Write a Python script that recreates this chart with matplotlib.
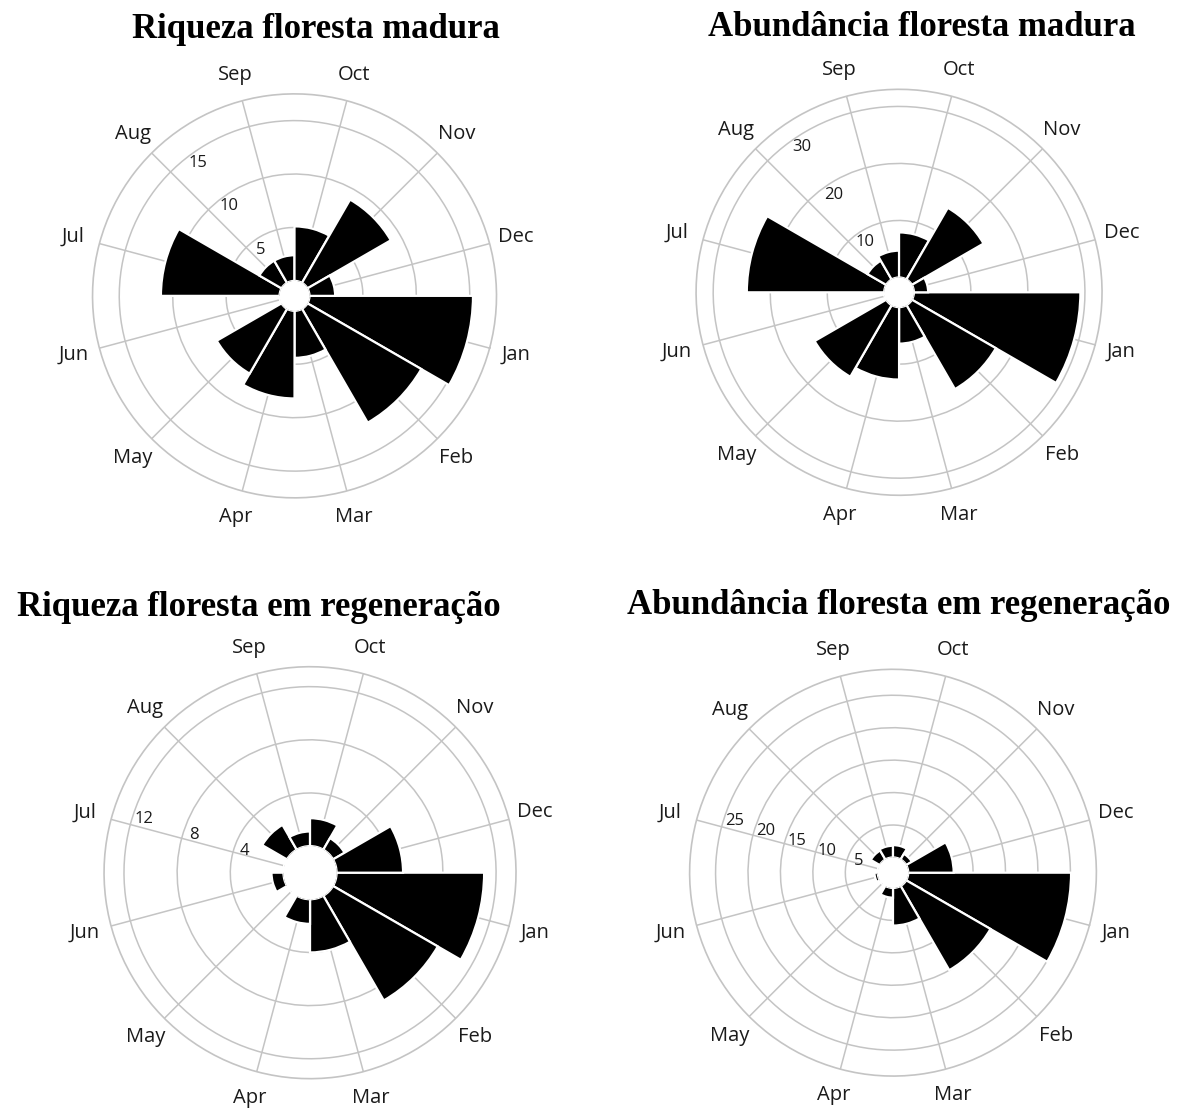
import numpy as np
import matplotlib.pyplot as plt

months = ['Jan', 'Feb', 'Mar', 'Apr', 'May', 'Jun',
          'Jul', 'Aug', 'Sep', 'Oct', 'Nov', 'Dec']

# valores (Jan..Dec)
riq_madura = [15.3, 12.3, 4.4, 8.2, 7.0, 0.0, 11.1, 2.4, 2.4, 5.1, 9.0, 2.4]
abu_madura = [29.2, 17.0, 6.4, 12.7, 14.5, 0.0, 24.1, 3.8, 4.7, 7.9, 14.5, 2.5]
riq_regen = [11.1, 9.1, 4.0, 1.85, 0.0, 0.9, 0.0, 2.15, 1.1, 2.1, 1.0, 5.0]
abu_regen = [25.1, 15.0, 5.8, 1.5, 0.0, 0.5, 0.0, 1.6, 1.8, 1.9, 1.0, 7.0]

titles = ['Riqueza floresta madura', 'Abundância floresta madura',
          'Riqueza floresta em regeneração', 'Abundância floresta em regeneração']

# aneis de cada grafico
rings_1 = [5, 10, 15]
rings_2 = [10, 20, 30]
rings_3 = [4, 8, 12]
rings_4 = [5, 10, 15, 20, 25]

rmax = [17.5, 33, 13.5, 29]
rorigin = [1.4, 2.6, 2.0, 2.35]
rlabel_angle = [126, 124, 162, 162]   # angulo (graus, matematico) dos rotulos radiais

# posicao dos eixos [left, bottom, width, height]
boxes = [[0.0778, 0.5519, 0.3398, 0.3636],
         [0.5854, 0.5542, 0.3415, 0.3654],
         [0.0875, 0.0291, 0.3465, 0.3708],
         [0.5800, 0.0314, 0.3421, 0.3662]]
title_xy = [(316, 30), (922, 28), (259, 607), (899, 606)]

grid_col = '#c4c4c4'
month_font = ['Open Sans', 'DejaVu Sans']

fig = plt.figure(figsize=(11.89, 11.11), dpi=100)

data = [riq_madura, abu_madura, riq_regen, abu_regen]
rings = [rings_1, rings_2, rings_3, rings_4]
theta = np.deg2rad(np.arange(12) * 30)

for k in range(4):
    ax = fig.add_axes(boxes[k], projection='polar')
    ax.set_theta_direction(-1)
    ax.set_theta_offset(np.deg2rad(-15))
    ax.set_axisbelow(True)

    ax.bar(theta, data[k], width=np.deg2rad(30), bottom=0, align='center',
           color='black', edgecolor='white', linewidth=1.6, zorder=3)

    ax.set_rorigin(-rorigin[k])
    ax.set_rlim(0, rmax[k])
    ax.set_yticks(rings[k])
    ax.set_yticklabels([])
    ax.set_xticks(theta)
    ax.set_xticklabels(months, fontfamily=month_font, fontsize=14.5, color='#1a1a1a')
    ax.tick_params(axis='x', pad=9)
    ax.grid(True, color=grid_col, linewidth=1.1)
    ax.spines['polar'].set_color(grid_col)
    ax.spines['polar'].set_linewidth(1.2)
    # o circulo interno (buraco) nao tem contorno
    ax.spines['inner'].set_color('none')
    ax.spines['inner'].set_linewidth(0)

    # rotulos radiais, um pouco para dentro de cada anel
    phi = np.deg2rad(rlabel_angle[k])
    th_lab = np.deg2rad(-15) - phi
    for v in rings[k]:
        ax.annotate(str(v), xy=(th_lab, v), xycoords='data',
                    xytext=(-8 * np.cos(phi), -8 * np.sin(phi)),
                    textcoords='offset points', ha='center', va='center',
                    fontsize=12, fontfamily=month_font, color='#1a1a1a',
                    annotation_clip=False)

    fig.text(title_xy[k][0] / 1189, 1 - title_xy[k][1] / 1111, titles[k],
             ha='center', va='center', fontsize=25, fontweight='bold',
             fontfamily='Liberation Serif')

fig.savefig('out.png', dpi=100, facecolor='white')
